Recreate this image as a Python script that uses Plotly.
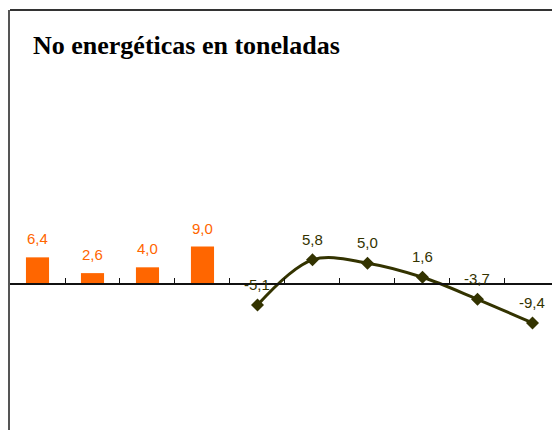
import plotly.graph_objects as go

categories = ["C1", "C2", "C3", "C4", "C5", "C6", "C7", "C8", "C9", "C10"]
bar_categories = categories[:4]
bar_values = [6.4, 2.6, 4.0, 9.0]
line_categories = categories[4:]
line_values = [-5.1, 5.8, 5.0, 1.6, -3.7, -9.4]
title_text = "No energéticas en toneladas"

BAR_COLOR = "#FF6600"
LINE_COLOR = "#333300"

def fmt(v):
    return f"{v:.1f}".replace(".", ",")

y_range = [-35.2, 66.0]
axis_pos = (0 - y_range[0]) / (y_range[1] - y_range[0])

fig = go.Figure()
fig.add_trace(go.Bar(
    x=bar_categories, y=bar_values, width=0.42,
    marker=dict(color=BAR_COLOR, line=dict(width=0)),
    showlegend=False, hoverinfo="x+y",
))
fig.add_trace(go.Scatter(
    x=line_categories, y=line_values, mode="lines+markers",
    line=dict(color=LINE_COLOR, width=3, shape="spline", smoothing=1),
    marker=dict(symbol="diamond", size=10, color=LINE_COLOR),
    showlegend=False, cliponaxis=False,
))

annotations = []
for c, v in zip(bar_categories, bar_values):
    annotations.append(dict(
        x=categories.index(c), y=v, xref="x", yref="y", text=fmt(v), showarrow=False,
        yanchor="bottom", yshift=8,
        font=dict(family="Liberation Sans, Arial, sans-serif", size=15, color=BAR_COLOR),
    ))
for c, v in zip(line_categories, line_values):
    annotations.append(dict(
        x=categories.index(c), y=v, xref="x", yref="y", text=fmt(v), showarrow=False,
        yanchor="bottom", yshift=10,
        font=dict(family="Liberation Sans, Arial, sans-serif", size=15, color=LINE_COLOR),
    ))

fig.update_layout(
    width=552, height=430,
    margin=dict(l=10, r=0, t=10, b=0),
    paper_bgcolor="white", plot_bgcolor="white",
    title=dict(
        text=title_text, xref="container", yref="container",
        x=33 / 552, xanchor="left", y=1 - 45 / 430, yanchor="middle",
        font=dict(family="Liberation Serif, Times New Roman, serif", size=26,
                  color="black", weight="bold"),
    ),
    xaxis=dict(
        type="category", categoryorder="array", categoryarray=categories,
        range=[-0.5, 9.355], anchor="free", position=axis_pos,
        showline=True, linecolor="#111111", linewidth=1.5,
        ticks="inside", tickson="boundaries", ticklen=5, tickcolor="#111111", tickwidth=1,
        showticklabels=False, showgrid=False, zeroline=False,
    ),
    yaxis=dict(
        range=y_range, showline=True, linecolor="#555555", linewidth=2,
        showticklabels=False, ticks="", showgrid=False, zeroline=False,
    ),
    annotations=annotations,
    shapes=[dict(type="line", xref="paper", yref="paper", x0=0, x1=1, y0=1, y1=1,
                 line=dict(color="#333333", width=2))],
)

fig.write_html("out.html", config={"displayModeBar": False},
               post_script="document.body.style.margin='0';document.body.style.overflow='hidden';")
